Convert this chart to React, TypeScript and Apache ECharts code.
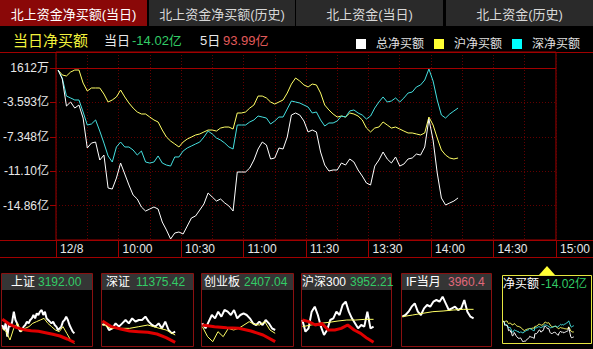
import React, { useEffect, useRef } from "react";
import * as echarts from "echarts";

const FONT = '"Liberation Sans", "Noto Sans CJK SC", sans-serif';

// ---------- texts ----------
const tabLabels = ["北上资金净买额(当日)", "北上资金净买额(历史)", "北上资金(当日)", "北上资金(历史)"];
const headerTitle = "当日净买额";
const todayLabel = "当日";
const todayValue = "-14.02亿";
const fiveDayLabel = "5日";
const fiveDayValue = "93.99亿";
const legendNames = ["总净买额", "沪净买额", "深净买额"];

// ---------- axes ----------
const xTickMinutes = [0, 30, 60, 90, 120, 150, 180, 210, 240];
const xTickLabels = ["12/8", "10:00", "10:30", "11:00", "11:30", "13:30", "14:00", "14:30", "15:00"];
const yTickValues = [0.1612, -3.5934, -7.348, -11.1026, -14.8572];
const yTickLabels = ["1612万", "-3.593亿", "-7.348亿", "-11.10亿", "-14.86亿"];
const Y_MIN = -18.6118;
const Y_MAX = 1.908;
const Y_STEP = 3.7546;
const OPEN_LINE = 0.1612;

// ---------- main series (亿), sampled every 2 minutes from 9:31 ----------
const totalNet = [
  -0.06, -1.04, -3.99, -3.55, -4.21, -3.88, -5.3, -8.57, -8.03, -7.92,
  -9.88, -9.34, -12.94, -13.05, -11.85, -10.21, -11.41, -12.61, -13.7, -14.14,
  -15.01, -15.45, -15.23, -15.01, -15.23, -16.65, -17.52, -18.5, -17.85, -17.74,
  -17.96, -17.09, -16.21, -15.99, -15.34, -14.68, -13.48, -13.92, -14.36, -14.14,
  -14.57, -14.9, -15.45, -11.19, -11.19, -11.19, -10.75, -9.88, -8.68, -7.92,
  -8.24, -9.77, -9.66, -8.57, -8.68, -7.37, -4.97, -4.75, -4.97, -5.62,
  -6.82, -6.61, -6.82, -9.01, -10.43, -11.08, -10.97, -10.97, -10.21, -10.43,
  -9.77, -10.1, -10.97, -11.63, -12.39, -12.61, -10.54, -9.88, -9.01, -9.77,
  -10.21, -9.55, -10.54, -10.32, -9.77, -9.66, -9.23, -9.34, -8.46, -5.41,
  -7.7, -11.3, -14.03, -14.79, -14.57, -14.36, -14.02,
];
const shNet = [
  -0.06, -0.6, -0.71, -0.28, -0.06, -0.06, -1.48, -2.35, -2.02, -2.02,
  -2.02, -2.68, -3.55, -3.33, -3.0, -2.24, -3.0, -3.66, -4.21, -4.64,
  -4.86, -4.86, -5.19, -5.51, -5.73, -6.61, -7.37, -7.81, -8.13, -8.46,
  -7.92, -7.59, -7.37, -7.15, -7.04, -6.82, -6.61, -6.61, -6.72, -6.39,
  -6.28, -6.28, -6.5, -4.75, -4.75, -4.64, -4.21, -3.88, -2.9, -2.9,
  -3.11, -3.55, -3.77, -3.55, -3.33, -2.57, -1.59, -0.93, -1.26, -1.69,
  -1.91, -1.59, -1.69, -2.57, -3.88, -4.42, -4.86, -5.19, -5.08, -5.19,
  -4.75, -4.86, -5.08, -5.51, -6.39, -6.82, -6.39, -6.28, -5.73, -6.06,
  -6.39, -6.28, -6.5, -6.72, -6.93, -6.93, -7.04, -7.15, -6.93, -5.19,
  -6.06, -7.48, -8.79, -9.34, -9.66, -9.77, -9.66,
];
const szNet = [
  -0.06, -0.93, -2.9, -3.11, -3.33, -3.33, -4.64, -6.06, -5.95, -5.51,
  -6.72, -8.03, -9.44, -10.1, -8.46, -7.92, -8.46, -8.46, -8.79, -9.34,
  -8.9, -10.1, -10.21, -10.1, -9.44, -10.21, -10.43, -10.54, -9.55, -9.55,
  -8.9, -8.57, -8.35, -8.13, -7.92, -7.37, -6.72, -7.04, -7.48, -7.7,
  -8.03, -8.46, -8.68, -6.06, -6.06, -6.06, -5.73, -5.51, -5.08, -5.19,
  -5.3, -5.95, -5.62, -5.19, -5.19, -4.31, -3.44, -3.55, -3.66, -3.88,
  -4.1, -4.75, -4.64, -5.51, -6.17, -5.84, -5.84, -5.62, -5.08, -5.19,
  -4.53, -4.42, -4.75, -4.97, -5.41, -5.08, -4.21, -3.55, -3.0, -3.55,
  -3.44, -3.11, -3.55, -3.11, -2.57, -2.46, -1.91, -1.69, -1.15, 0.05,
  -1.26, -3.33, -4.97, -5.3, -4.86, -4.53, -4.21,
];
const sampleMinutes = totalNet.map((_, i) => 1 + 2 * i);

// ---------- mini panels ----------
const miniTitles = ["上证", "深证", "创业板", "沪深300", "IF当月", "净买额"];
const miniQuotes = ["3192.00", "11375.42", "2407.04", "3952.21", "3960.4", "-14.02亿"];

// relative intraday moves for the thumbnails
const shPrice = [1.0, 0.25, 1.25, -0.75, 1.0, 0.75, 1.5, 3.0, 1.75, 1.25, 0.5, 0, 0.25, 0.75, 1.0, 1.5, 1.25, 1.75, 2.0, 2.5, 2.0, 2.75, 2.5, 3.0, 3.25, 2.5, 3.0, 2.0, 1.75, 1.5, 1.25, 1.5, 1.0, 0.75, 0.25, 0.5, 0.75, 1.5, 1.75, 2.25, 1.75, 1.0, 0.5, 0, -0.25];
const shAvg = [0.5, 0, -1.25, 0.5, 1.25, 0, 0.5, 0.75, 1.25, 1.5, 1.75, 2.0, 1.25, 0.75, 0.25, 0, 0.75, -0.25, -1.25, -1.75];
const shRef = [1.85, 1.1, 0.6, 0.3, 0.15, 0.05, -0.15, -0.4, -0.65, -1.1, -1.6];
const szPrice = [1.0, 1.25, 0.25, 0.5, 1.25, 0.75, 1.25, 1.75, 1.25, 2.0, 1.5, 1.75, 1.75, 2.25, 1.5, 1.0, 0.75, 1.25, 0.5, 1.5, 0.25, -0.25, 0];
const szAvg = [1.1, 0.5, 0.5, 0.5, 0.75, 1.0, 0.6, 0.25, -0.5];
const szRef = [1.6, 0.75, 0.4, 0.1, 0, -0.1, -0.35, -0.9, -1.6];
const cybPrice = [1.25, 0.5, 1.5, 2.5, 2.0, 3.0, 2.25, 3.25, 3.0, 2.5, 3.25, 2.0, 2.5, 2.75, 2.5, 2.0, 1.25, 1.0, 1.5, 1.0, 1.75, 1.25, 0.5, 0.25];
const cybAvg = [0.75, -0.75, -1.5, 0, -0.75, 0.5, 0.25, 0.5, 1.0, 1.5, 1.1, 1.0, 1.5, 0.25, -0.25];
const cybRef = [1.0, 0.75, 0.6, 0.5, 0.1, -0.5, -1.5];
const hsPrice = [1.75, 0, 0.5, 3.0, 3.75, 2.5, 0.75, -0.5, 0.25, 1.75, 2.0, 3.0, 2.5, 4.0, 4.5, 3.0, 2.0, 1.25, 0.5, 1.0, 0.75, 3.0, 0.5, 0.75];
const hsAvg = [0.75, 1.0, 1.25, 1.4, 1.6, 1.75, 1.75, 1.85, 1.85];
const hsRef = [1.75, 1.5, 1.0, 1.25, 0.25, 0.25, 0.5, 1.0, 0.25, -0.25, -1.0, -1.6];
const ifPrice = [2.25, 2.5, 3.0, 3.75, 4.25, 3.0, 2.5, 3.5, 4.0, 3.75, 4.5, 4.75, 4.5, 5.25, 4.25, 3.25, 3.5, 3.75, 3.25, 3.5, 4.75, 3.0, 2.25, 2.0];
const ifAvg = [2.25, 2.5, 2.75, 3.0, 3.1, 3.25, 3.35, 3.35];
const MINI_MIN = -2.15;
const MINI_MAX = 6.25;

// ---------- colours ----------
const FRAME = "#a00000";
const DOT = "#640000";
const BOX = "#8a1010";
const WHITE = "#ffffff";
const YELLOW = "#ffff66";
const CYAN = "#45e0e0";
const GREEN = "#33cc66";

const spread = (arr: number[]) => arr.map((v, i) => [1 + (192 * i) / (arr.length - 1), v]);

function txt(x: number, y: number, text: string, fill: string, size: number, align = "left") {
  return {
    type: "text",
    x,
    y,
    silent: true,
    z: 10,
    style: {
      text,
      fill,
      font: `${size}px ${FONT}`,
      textAlign: align,
      align,
      textVerticalAlign: "middle",
      verticalAlign: "middle",
    },
  };
}
function hline(y: number, x1: number, x2: number, color: string) {
  return { type: "line", silent: true, z: 1, shape: { x1, y1: y, x2, y2: y }, style: { stroke: color, lineWidth: 1 } };
}

function buildOption() {
  const graphic: any[] = [];
  // tabs
  const tabs = [
    { x: 0, w: 147, bg: "#8a0808", fg: "#ffffff" },
    { x: 149, w: 146, bg: "#2a2a2a", fg: "#d8d8d8" },
    { x: 296, w: 147, bg: "#2a2a2a", fg: "#d8d8d8" },
    { x: 446, w: 147, bg: "#2a2a2a", fg: "#d8d8d8" },
  ];
  tabs.forEach((t, i) => {
    graphic.push({ type: "rect", silent: true, z: 0, shape: { x: t.x, y: 0, width: t.w, height: 26 }, style: { fill: t.bg } });
    graphic.push(txt(t.x + t.w / 2, 14, tabLabels[i], t.fg, 13, "center"));
  });
  // second row
  graphic.push(txt(13, 40, headerTitle, "#f2f23c", 15));
  graphic.push(txt(104, 40, todayLabel, "#e8e8e8", 13));
  graphic.push(txt(132, 40, todayValue, GREEN, 13));
  graphic.push(txt(200, 40, fiveDayLabel, "#e8e8e8", 13));
  graphic.push(txt(223, 40, fiveDayValue, "#e05a5a", 13));
  // frame lines
  graphic.push(hline(52.5, 0, 593, FRAME));
  graphic.push(hline(240.5, 0, 593, FRAME));
  graphic.push(hline(257.5, 0, 593, FRAME));

  // mini boxes
  const boxes = [
    { x: 1, w: 91, tx: 11, vx: 38 },
    { x: 101, w: 92, tx: 106, vx: 136 },
    { x: 201, w: 92, tx: 204, vx: 244 },
    { x: 301, w: 90, tx: 302, vx: 350 },
    { x: 401, w: 90, tx: 406, vx: 448 },
  ];
  const quoteColors = [GREEN, GREEN, GREEN, GREEN, "#e0687a"];
  boxes.forEach((b, i) => {
    graphic.push({ type: "rect", silent: true, z: 0, shape: { x: b.x + 0.5, y: 273.5, width: b.w, height: 73 }, style: { fill: "none", stroke: BOX, lineWidth: 1 } });
    graphic.push({ type: "rect", silent: true, z: 0, shape: { x: b.x + 1, y: 274, width: b.w - 1, height: 16 }, style: { fill: "#353535" } });
    graphic.push(txt(b.tx, 282, miniTitles[i], "#ffffff", 12));
    graphic.push(txt(b.vx, 282, miniQuotes[i], quoteColors[i], 12));
  });
  graphic.push({ type: "rect", silent: true, z: 0, shape: { x: 502.5, y: 275.5, width: 89, height: 68 }, style: { fill: "none", stroke: "#e6e640", lineWidth: 1 } });
  graphic.push({ type: "polygon", silent: true, z: 0, shape: { points: [[539, 275], [547, 266], [555, 275]] }, style: { fill: "#ffff33" } });
  graphic.push(txt(503, 284, miniTitles[5], "#ffffff", 12));
  graphic.push(txt(541, 284, miniQuotes[5], GREEN, 12));

  // grids
  const grids: any[] = [{ left: 54, right: 25, top: 52, bottom: 109, show: true, borderColor: FRAME, borderWidth: 1 }];
  boxes.forEach((b) => grids.push({ left: b.x + 1, top: 290, width: b.w - 1, height: 56 }));
  grids.push({ left: 503, top: 291, width: 88, height: 52 });

  const xAxes: any[] = [
    {
      type: "value",
      gridIndex: 0,
      min: 0,
      max: 240,
      interval: 30,
      position: "bottom",
      axisLine: { show: false, onZero: false },
      axisTick: { show: true, length: 17, lineStyle: { color: FRAME } },
      axisLabel: {
        color: "#e8e8e8",
        fontSize: 12,
        fontFamily: FONT,
        align: "left",
        padding: [0, 0, 0, 4],
        margin: 3,
        showMinLabel: true,
        showMaxLabel: true,
        formatter: (v: number) => {
          const i = xTickMinutes.indexOf(Math.round(v));
          return i >= 0 ? xTickLabels[i] : "";
        },
      },
      splitLine: { show: true, lineStyle: { color: DOT, type: [1, 2] } },
      minorTick: { show: false, splitNumber: 2 },
      minorSplitLine: { show: true, lineStyle: { color: DOT, type: [1, 2] } },
    },
  ];
  const yAxes: any[] = [
    {
      type: "value",
      gridIndex: 0,
      min: Y_MIN,
      max: Y_MAX,
      interval: Y_STEP,
      axisLine: { show: false, onZero: false },
      axisTick: { show: true, length: 6, lineStyle: { color: FRAME } },
      axisLabel: {
        color: "#e8e8e8",
        fontSize: 12,
        fontFamily: FONT,
        margin: 7,
        showMinLabel: true,
        showMaxLabel: true,
        formatter: (v: number) => {
          const i = yTickValues.findIndex((t) => Math.abs(t - v) < 0.01);
          return i >= 0 ? yTickLabels[i] : "";
        },
      },
      splitLine: { show: true, lineStyle: { color: DOT, type: [1, 2] } },
    },
  ];
  for (let g = 1; g <= 6; g++) {
    xAxes.push({ type: "value", gridIndex: g, min: 0, max: 240, show: false, splitLine: { show: false } });
    yAxes.push(
      g === 6
        ? { type: "value", gridIndex: g, min: -19.4, max: 26.3, show: false, splitLine: { show: false } }
        : { type: "value", gridIndex: g, min: MINI_MIN, max: MINI_MAX, show: false, splitLine: { show: false } }
    );
  }

  const pair = (arr: number[]) => sampleMinutes.map((m, i) => [m, arr[i]]);
  const line = (name: string, data: any[], color: string, width: number, axis: number, extra: any = {}) => ({
    type: "line",
    name,
    data,
    xAxisIndex: axis,
    yAxisIndex: axis,
    showSymbol: false,
    symbol: "none",
    silent: true,
    lineStyle: { color, width },
    itemStyle: { color },
    ...extra,
  });

  const series: any[] = [
    line(legendNames[1], pair(shNet), YELLOW, 1, 0, {
      markLine: {
        silent: true,
        symbol: ["none", "none"],
        label: { show: false },
        lineStyle: { color: FRAME, type: "solid", width: 1 },
        data: [{ yAxis: OPEN_LINE }],
      },
    }),
    line(legendNames[2], pair(szNet), CYAN, 1, 0),
    line(legendNames[0], pair(totalNet), WHITE, 1, 0),
  ];
  const minis = [
    [shPrice, shAvg, shRef],
    [szPrice, szAvg, szRef],
    [cybPrice, cybAvg, cybRef],
    [hsPrice, hsAvg, hsRef],
    [ifPrice, ifAvg, null],
  ];
  minis.forEach((m, i) => {
    const ax = i + 1;
    series.push(line(`p${ax}`, spread(m[0] as number[]), WHITE, 2, ax));
    series.push(line(`a${ax}`, spread(m[1] as number[]), YELLOW, 1, ax));
    if (m[2]) series.push(line(`r${ax}`, spread(m[2] as number[]), "#e00000", 3, ax));
  });
  series.push(line("m-sh", pair(shNet), YELLOW, 1, 6));
  series.push(line("m-sz", pair(szNet), CYAN, 1, 6));
  series.push(line("m-total", pair(totalNet), WHITE, 1, 6));

  return {
    animation: false,
    backgroundColor: "#000000",
    legend: {
      data: [
        { name: legendNames[0], itemStyle: { color: "#ffffff" } },
        { name: legendNames[1], itemStyle: { color: "#ffff33" } },
        { name: legendNames[2], itemStyle: { color: "#00ffff" } },
      ],
      icon: "rect",
      right: 8,
      top: 33,
      itemWidth: 10,
      itemHeight: 10,
      itemGap: 10,
      selectedMode: false,
      textStyle: { color: "#e0e0e0", fontSize: 12, fontFamily: FONT, padding: [0, 0, 0, 5] },
    },
    grid: grids,
    xAxis: xAxes,
    yAxis: yAxes,
    series,
    graphic,
  };
}

export default function App() {
  const ref = useRef<HTMLDivElement>(null);
  useEffect(() => {
    document.body.style.margin = "0";
    document.body.style.background = "#000";
    const chart = echarts.init(ref.current!, null, { renderer: "svg" });
    chart.setOption(buildOption() as any);
    return () => chart.dispose();
  }, []);
  return <div ref={ref} style={{ position: "absolute", left: 0, top: 0, width: 593, height: 349 }} />;
}
